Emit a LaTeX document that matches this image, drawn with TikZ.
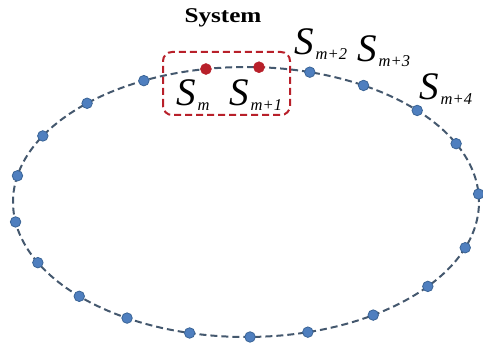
\documentclass[tikz,border=0pt]{standalone}
\usepackage{fontspec}
\setmainfont{Liberation Serif}
\usetikzlibrary{calc}
\definecolor{ringc}{HTML}{44586E}
\definecolor{dotfill}{HTML}{4F7FBF}
\definecolor{dotedge}{HTML}{3A6496}
\definecolor{sysred}{HTML}{B8202A}
\newcommand{\slab}[1]{{\fontsize{39}{39}\selectfont\textit{S}}\hspace{2pt}\raisebox{-5pt}{\fontsize{16.5}{16.5}\selectfont\textit{#1}}}
\begin{document}
\begin{tikzpicture}[x=1pt,y=1pt,
  ring/.style={draw=ringc,line width=2pt,dash pattern=on 7pt off 4pt},
  bdot/.style={circle,fill=dotfill,draw=dotedge,line width=0.8pt,minimum size=10.5pt,inner sep=0pt},
  rdot/.style={circle,fill=sysred,draw=sysred,line width=0.5pt,minimum size=11pt,inner sep=0pt},
  sysbox/.style={draw=sysred,line width=2pt,dash pattern=on 7pt off 4pt,rounded corners=9pt},
  lab/.style={anchor=base west,inner sep=0pt}]
\useasboundingbox (0,0) rectangle (483,345);
\coordinate (c) at (246,143);
\draw[ring] (c) ellipse [x radius=233, y radius=135];
\draw[sysbox] (163,230) rectangle (290,293);
\node[font=\bfseries\fontsize{21}{21}\selectfont,xscale=1.2] (sys) at (223,327) {System};
% dots
\foreach \n/\a in {b1/74.1,b2/59.7,b3/42.7,b4/25.6,b5/3.4,b6/-19.8,b7/-38.7,b8/-56.9,b9/-74.6,b10/-89,b11/-104,b12/-120.7,b13/-135.7,b14/-153.3,b15/-171.5,b16/168.8,b17/150.7,b18/133,b19/116}
  \node[bdot] (\n) at ($(c)+(\a:233pt and 135pt)$) {};
\node[rdot] (r1) at ($(c)+(99.9:233pt and 135pt)$) {};
\node[rdot] (r2) at ($(c)+(86.8:233pt and 135pt)$) {};
% labels
\node[lab] (sm) at (176,239) {\slab{m}};
\node[lab] (sm1) at (229,239) {\slab{m+1}};
\node[lab] (sm2) at (294,290) {\slab{m+2}};
\node[lab] (sm3) at (357,283) {\slab{m+3}};
\node[lab] (sm4) at (419,245) {\slab{m+4}};
\end{tikzpicture}
\end{document}
